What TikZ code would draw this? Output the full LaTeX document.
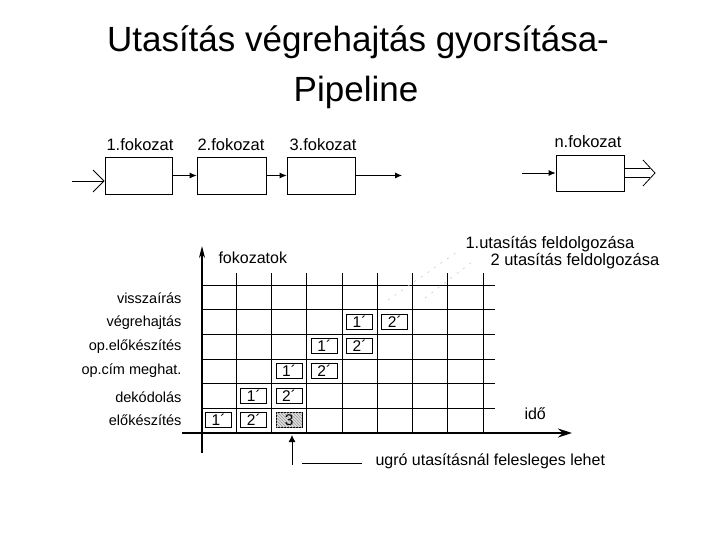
\documentclass[tikz,border=0pt]{standalone}
\usepackage{fontspec}
\setmainfont{Liberation Sans}
\usetikzlibrary{arrows.meta,patterns}
\begin{document}
\begin{tikzpicture}[x=1pt,y=-1pt,
  stage/.style={draw, line width=0.8pt, minimum height=37pt, inner sep=0},
  lbl/.style={font=\fontsize{16.5}{19}\selectfont},
  rowlbl/.style={font=\fontsize{14.5}{17}\selectfont, anchor=east},
  cellbox/.style={draw, line width=0.8pt, minimum width=26pt, minimum height=15pt, inner sep=0, font=\fontsize{15.5}{16}\selectfont},
  gridline/.style={line width=0.8pt},
  flow/.style={line width=0.8pt, -{Latex[length=7pt,width=6pt]}},
  axis/.style={line width=1.6pt},
  faint/.style={gray!45, line width=0.6pt, dash pattern=on 2pt off 6pt},
]
\useasboundingbox (0,0) rectangle (720,540);

% title
\node[font=\fontsize{35}{40}\selectfont, anchor=base] (t1) at (358,52) {Utasítás végrehajtás gyorsítása-};
\node[font=\fontsize{35}{40}\selectfont, anchor=base] (t2) at (356,102) {Pipeline};

% stage boxes
\node[stage, minimum width=67pt] (s1) at (138.5,175.5) {};
\node[stage, minimum width=69pt] (s2) at (231.5,175.5) {};
\node[stage, minimum width=68pt] (s3) at (321,175.5) {};
\node[stage, minimum width=68pt, minimum height=36pt] (sn) at (590,173) {};
\node[lbl] (l1) at (140,145) {1.fokozat};
\node[lbl] (l2) at (231,145) {2.fokozat};
\node[lbl] (l3) at (323,145) {3.fokozat};
\node[lbl] (ln) at (588,142) {n.fokozat};

\coordinate (in1) at (72,181);
\draw[line width=0.8pt, -{Straight Barb[length=11pt,width=22pt]}] (in1) -- ([yshift=-5.5pt]s1.west);
\draw[flow] (s1) -- (s2);
\draw[flow] (s2) -- (s3);
\coordinate (out3) at (402,175.5);
\draw[flow] (s3) -- (out3);
\coordinate (inn) at (522,173);
\draw[flow] (inn) -- (sn);
% double output arrow
\coordinate (o1) at (650,168.5);
\coordinate (o2) at (650,177.5);
\draw[line width=0.8pt] ([yshift=4.5pt]sn.east) -- (o1);
\draw[line width=0.8pt] ([yshift=-4.5pt]sn.east) -- (o2);
\draw[line width=0.8pt] (643,160) -- (655,173) -- (643,186);

% grid
\foreach \i in {1,...,8} {
  \draw[gridline] ({201+35.25*\i},273) -- ({201+35.25*\i},433);
}
\foreach \j in {0,...,5} {
  \draw[gridline] (201,{285+24.667*\j}) -- (495,{285+24.667*\j});
}
% axes
\coordinate (xa0) at (182,433);
\coordinate (xa1) at (572,433);
\coordinate (ya0) at (202,453);
\coordinate (ya1) at (202,246);
\draw[axis, -{Stealth[length=14pt,width=9pt]}] (xa0) -- (xa1);
\draw[axis, -{Stealth[length=12pt,width=6pt]}] (ya0) -- (ya1);
\node[lbl, font=\fontsize{16}{19}\selectfont, anchor=west] (fok) at (215,258) {fokozatok};
\node[lbl, font=\fontsize{16}{19}\selectfont, anchor=west] (ido) at (521,414) {idő};

% row labels
\node[rowlbl] (r1) at (185,298) {visszaírás};
\node[rowlbl] (r2) at (185,323) {végrehajtás};
\node[rowlbl] (r3) at (185,347) {op.előkészítés};
\node[rowlbl] (r4) at (185,371) {op.cím meghat.};
\node[rowlbl] (r5) at (185,397) {dekódolás};
\node[rowlbl] (r6) at (185,420) {előkészítés};

% cell boxes
\foreach \c/\r/\t/\nm in {1/6/1´/a1, 2/6/2´/a2, 2/5/1´/b1, 3/5/2´/b2, 3/4/1´/c1, 4/4/2´/c2, 4/3/1´/d1, 5/3/2´/d2, 5/2/1´/e1, 6/2/2´/e2} {
  \node[cellbox] (\nm) at ({201+35.25*(\c-0.5)},{285+24.667*(\r-0.5)-0.5}) {\t};
}
\node[cellbox, fill=gray!25, postaction={pattern=north west lines, pattern color=gray!80}] (h3) at ({201+35.25*2.5},{285+24.667*5.5-0.5}) {3};

% faint dashed lines and labels
\coordinate (f1a) at (388,300);
\coordinate (f1b) at (460,250);
\coordinate (f2a) at (425,298);
\coordinate (f2b) at (472,262);
\draw[faint] (f1a) -- (f1b);
\draw[faint] (f2a) -- (f2b);
\node[lbl, anchor=west] (u1) at (462,244) {1.utasítás feldolgozása};
\node[lbl, anchor=west] (u2) at (487,261) {2 utasítás feldolgozása};

% pointer
\coordinate (pb) at (292,465);
\coordinate (pa) at (292,435);
\draw[line width=0.8pt, -{Latex[length=7pt,width=7pt]}] (pb) -- (pa);
\coordinate (hl0) at (302,463);
\coordinate (hl1) at (362,463);
\draw[line width=0.8pt] (hl0) -- (hl1);
\node[lbl, font=\fontsize{16}{19}\selectfont, anchor=west] (ugro) at (372,461) {ugró utasításnál felesleges lehet};
\end{tikzpicture}
\end{document}
